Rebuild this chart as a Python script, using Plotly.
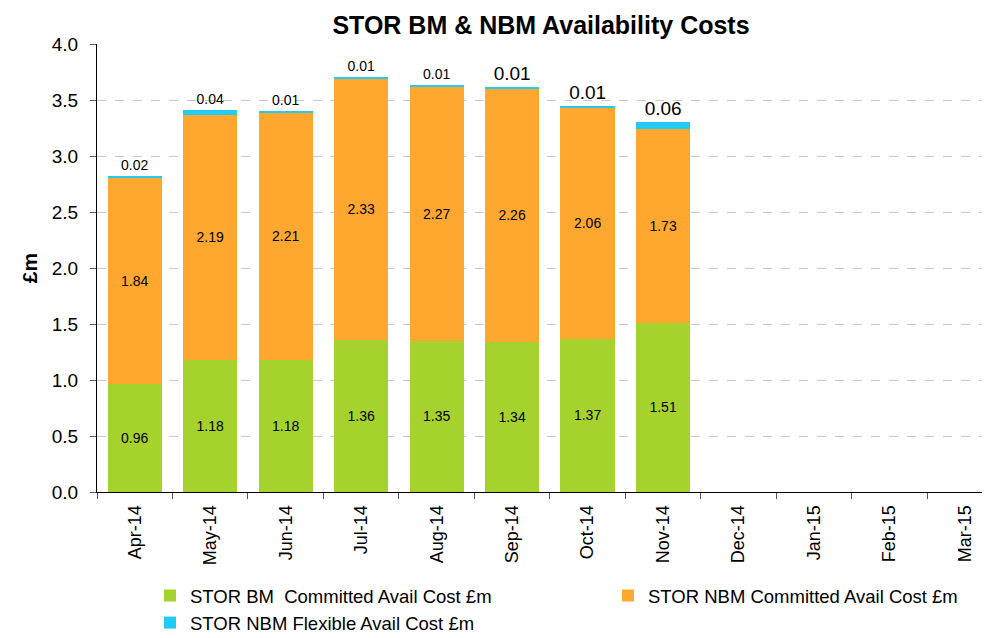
import plotly.graph_objects as go

months = ["Apr-14", "May-14", "Jun-14", "Jul-14", "Aug-14", "Sep-14",
          "Oct-14", "Nov-14", "Dec-14", "Jan-15", "Feb-15", "Mar-15"]
bm_committed = [0.96, 1.18, 1.18, 1.36, 1.35, 1.34, 1.37, 1.51]
nbm_committed = [1.84, 2.19, 2.21, 2.33, 2.27, 2.26, 2.06, 1.73]
nbm_flexible = [0.02, 0.04, 0.01, 0.01, 0.01, 0.01, 0.01, 0.06]
flex_label_sizes = [14, 14, 14, 14, 14, 19, 19, 19]

FONT = "Liberation Sans, Arial, sans-serif"
n = len(bm_committed)
x_used = months[:n]

fig = go.Figure()
fig.add_trace(go.Bar(
    x=x_used, y=bm_committed, name="STOR BM  Committed Avail Cost £m",
    marker=dict(color="#a6d22e", line=dict(width=0)),
    text=[f"{v:.2f}" for v in bm_committed], textposition="inside",
    insidetextanchor="middle", textangle=0, constraintext="none",
    textfont=dict(color="black", size=14, family=FONT),
    legend="legend", legendgroup="bm"))
fig.add_trace(go.Bar(
    x=x_used, y=nbm_committed, name="STOR NBM Committed Avail Cost £m",
    marker=dict(color="#ffa72e", line=dict(width=0)),
    text=[f"{v:.2f}" for v in nbm_committed], textposition="inside",
    insidetextanchor="middle", textangle=0, constraintext="none",
    textfont=dict(color="black", size=14, family=FONT),
    legend="legend2", legendgroup="nbm"))
fig.add_trace(go.Bar(
    x=x_used, y=nbm_flexible, name="STOR NBM Flexible Avail Cost £m",
    marker=dict(color="#22cbf6", line=dict(width=0)),
    text=[f"{v:.2f}" for v in nbm_flexible], textposition="outside",
    textangle=0, constraintext="none", cliponaxis=False,
    textfont=dict(color="black", size=flex_label_sizes, family=FONT),
    legend="legend", legendgroup="flex"))

legend_common = dict(orientation="v", yanchor="top", traceorder="normal",
                     font=dict(size=18.5, family=FONT), itemwidth=30,
                     bgcolor="rgba(0,0,0,0)", tracegroupgap=0)

fig.update_layout(
    width=982, height=630,
    barmode="stack", bargap=0.28,
    paper_bgcolor="white", plot_bgcolor="white",
    margin=dict(l=89, r=0, t=36, b=146, autoexpand=False),
    font=dict(family=FONT, color="black"),
    title=dict(text="<b>STOR BM & NBM Availability Costs</b>",
               x=533 / 982, xanchor="center", y=1 - 17 / 630, yanchor="middle",
               font=dict(size=25, family=FONT, color="black")),
    xaxis=dict(categoryorder="array", categoryarray=months,
               range=[-0.5, 11.33], tickangle=-90, automargin=False,
               tickfont=dict(size=18, family=FONT),
               ticklabelstandoff=5,
               showline=True, linecolor="black", linewidth=1,
               ticks="outside", ticklen=6, tickcolor="#555",
               tickson="boundaries", showgrid=False),
    yaxis=dict(range=[0, 4.0], dtick=0.5, tickformat=".1f", automargin=False,
               tickfont=dict(size=19, family=FONT),
               showline=True, linecolor="black", linewidth=1,
               ticks="outside", ticklen=6, tickcolor="#555",
               ticklabelstandoff=8,
               showgrid=True, gridcolor="#c8c8c8", griddash="dash",
               zeroline=False,
               title=dict(text="<b>£m</b>", font=dict(size=21, family=FONT),
                          standoff=8)),
    legend=dict(x=(150 - 97) / 893, xanchor="left", y=-85 / 448, **legend_common),
    legend2=dict(x=(608 - 97) / 893, xanchor="left", y=-85 / 448, **legend_common),
)

fig.write_html("out.html")
